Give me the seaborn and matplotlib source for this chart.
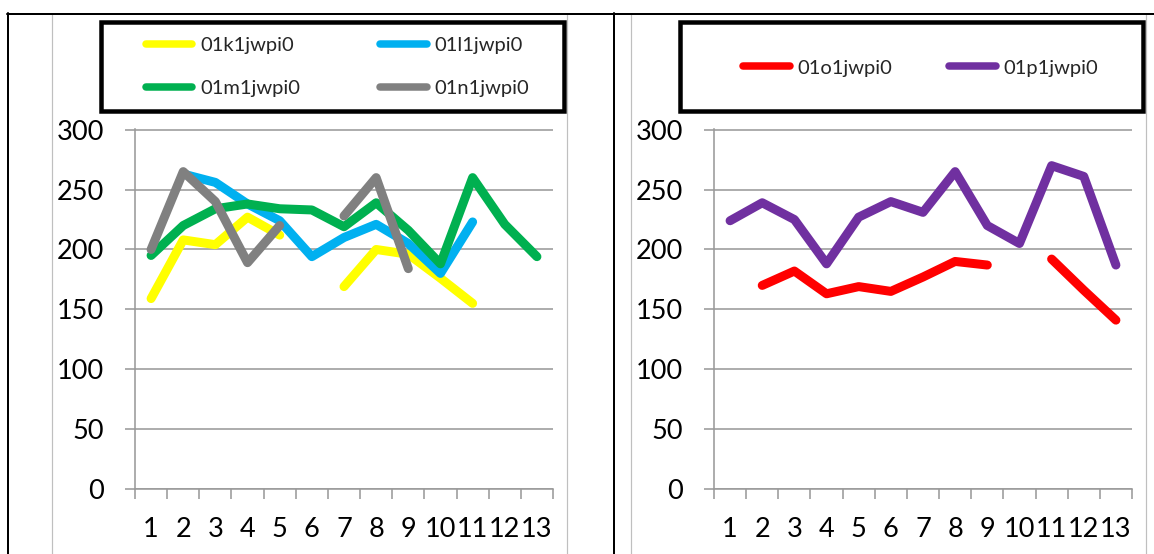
import numpy as np
import pandas as pd
import matplotlib
matplotlib.use("Agg")
import matplotlib.pyplot as plt
from matplotlib.lines import Line2D
from matplotlib.patches import Rectangle
import seaborn as sns

# ---- data -------------------------------------------------------------
categories = list(range(1, 14))
nan = np.nan
s_01k1 = [159, 208, 204, 227, 212, nan, 169, 200, 196, 176, 155, nan, nan]
s_01l1 = [nan, 263, 256, 238, 224, 194, 210, 221, 205, 180, 223, nan, nan]
s_01m1 = [195, 220, 234, 238, 234, 233, 219, 239, 216, 188, 260, 221, 194]
s_01n1 = [200, 265, 240, 189, 220, nan, 228, 260, 184, nan, nan, nan, nan]
s_01o1 = [nan, 170, 182, 163, 169, 165, 177, 190, 187, nan, 192, 166, 141]
s_01p1 = [224, 239, 225, 188, 227, 240, 231, 265, 220, 205, 270, 261, 187]

left_names = ["01k1jwpi0", "01l1jwpi0", "01m1jwpi0", "01n1jwpi0"]
left_values = [s_01k1, s_01l1, s_01m1, s_01n1]
right_names = ["01o1jwpi0", "01p1jwpi0"]
right_values = [s_01o1, s_01p1]
y_ticks = [0, 50, 100, 150, 200, 250, 300]

palette = {
    "01k1jwpi0": "#FFFF00",
    "01l1jwpi0": "#00B0F0",
    "01m1jwpi0": "#00B050",
    "01n1jwpi0": "#808080",
    "01o1jwpi0": "#FF0000",
    "01p1jwpi0": "#7030A0",
}

# ---- style ------------------------------------------------------------
sns.set_style("white")
plt.rcParams["font.family"] = ["Lato", "DejaVu Sans"]

W, H = 1154, 554
fig = plt.figure(figsize=(W / 100, H / 100), dpi=100)
fig.patch.set_facecolor("white")


def fx(px):
    return px / W


def fy(py):
    return 1 - py / H


def long_form(names, values):
    """Split each series at missing values so gaps stay open."""
    rows = []
    for name, vals in zip(names, values):
        seg = 0
        for x, v in zip(categories, vals):
            if np.isnan(v):
                seg += 1
                continue
            rows.append({"series": name, "segment": seg, "x": x, "y": v})
    return pd.DataFrame(rows)


GRID = "#9A9A9A"
PT = 0.72  # points per pixel at 100 dpi


def panel(left_px, names, values):
    ax = fig.add_axes([fx(left_px), fy(489), (418) / W, (489 - 129) / H])
    df = long_form(names, values)
    sns.lineplot(
        data=df, x="x", y="y", hue="series", units="segment",
        estimator=None, sort=False, hue_order=names, palette=palette,
        linewidth=9 * PT, solid_capstyle="round", solid_joinstyle="round",
        legend=False, ax=ax,
    )
    ax.set_xlim(0.5, 13.5)
    ax.set_ylim(0, 300.6)
    ax.set_yticks(y_ticks)
    ax.set_xticks(categories)
    ax.set_xticklabels([str(c) for c in categories])
    ax.set_xticks(np.arange(0.5, 14, 1.0), minor=True)
    ax.set_xlabel("")
    ax.set_ylabel("")
    ax.grid(axis="y", color=GRID, linewidth=1.6 * PT)
    ax.grid(axis="x", visible=False)
    ax.set_axisbelow(True)
    for side in ("top", "right"):
        ax.spines[side].set_visible(False)
    for side in ("left", "bottom"):
        ax.spines[side].set_color(GRID)
        ax.spines[side].set_linewidth(1.6 * PT)
    ax.tick_params(axis="y", which="major", left=True, length=10 * PT,
                   width=1.6 * PT, color=GRID, direction="out",
                   pad=21 * PT, labelsize=19.5, labelcolor="black")
    ax.tick_params(axis="x", which="major", bottom=True, length=0,
                   pad=28 * PT, labelsize=19.5, labelcolor="black")
    ax.tick_params(axis="x", which="minor", bottom=True, length=10 * PT,
                   width=1.6 * PT, color=GRID, direction="out")
    return ax


ax_left = panel(135, left_names, left_values)
ax_right = panel(714, right_names, right_values)

# ---- chart-area frames and table rules --------------------------------
for xp in (52, 567, 631, 1146):
    fig.add_artist(Line2D([fx(xp), fx(xp)], [fy(14), fy(H)],
                          color="#BFBFBF", linewidth=1.2 * PT,
                          transform=fig.transFigure))
fig.add_artist(Line2D([fx(7), fx(W)], [fy(13.5), fy(13.5)], color="black",
                      linewidth=2 * PT, transform=fig.transFigure))
for xp in (7.5, 613.5):
    fig.add_artist(Line2D([fx(xp), fx(xp)], [fy(13), fy(H)], color="black",
                          linewidth=2 * PT, transform=fig.transFigure))

# ---- legend boxes -----------------------------------------------------
for x0, x1 in ((101, 564), (679.5, 1143)):
    fig.add_artist(Rectangle((fx(x0), fy(111)), fx(x1) - fx(x0),
                             fy(22) - fy(111), fill=False,
                             edgecolor="black", linewidth=4.5 * PT,
                             joinstyle="miter", transform=fig.transFigure))

LEG_FS = 14.5
fs_px = LEG_FS / PT
handle_px = 46.5
pad_px = 8.0
renderer = fig.canvas.get_renderer()


def text_width_px(s):
    t = fig.text(0, 0, s, fontsize=LEG_FS)
    w = t.get_window_extent(renderer=renderer).width
    t.remove()
    return w


def handles_for(names):
    return [Line2D([], [], color=palette[n], linewidth=7.5 * PT,
                   solid_capstyle="round") for n in names]


def add_legend(order, first_col_names, start_px, second_px, center_y, ncol):
    col1_end = start_px + handle_px + pad_px + max(
        text_width_px(n) for n in first_col_names)
    spacing = (second_px - col1_end) / fs_px
    fig.legend(handles_for(order), order, loc="center left",
               bbox_to_anchor=(fx(start_px), fy(center_y)),
               bbox_transform=fig.transFigure, ncol=ncol, frameon=False,
               fontsize=LEG_FS, handlelength=handle_px / fs_px,
               handletextpad=pad_px / fs_px, columnspacing=spacing,
               labelspacing=1.33, borderpad=0, borderaxespad=0)


left_order = ["01k1jwpi0", "01m1jwpi0", "01l1jwpi0", "01n1jwpi0"]
add_legend(left_order, ["01k1jwpi0", "01m1jwpi0"], 146, 380, 67, 2)
add_legend(right_names, ["01o1jwpi0"], 743, 949, 68, 2)

fig.savefig("out.png", dpi=100)
